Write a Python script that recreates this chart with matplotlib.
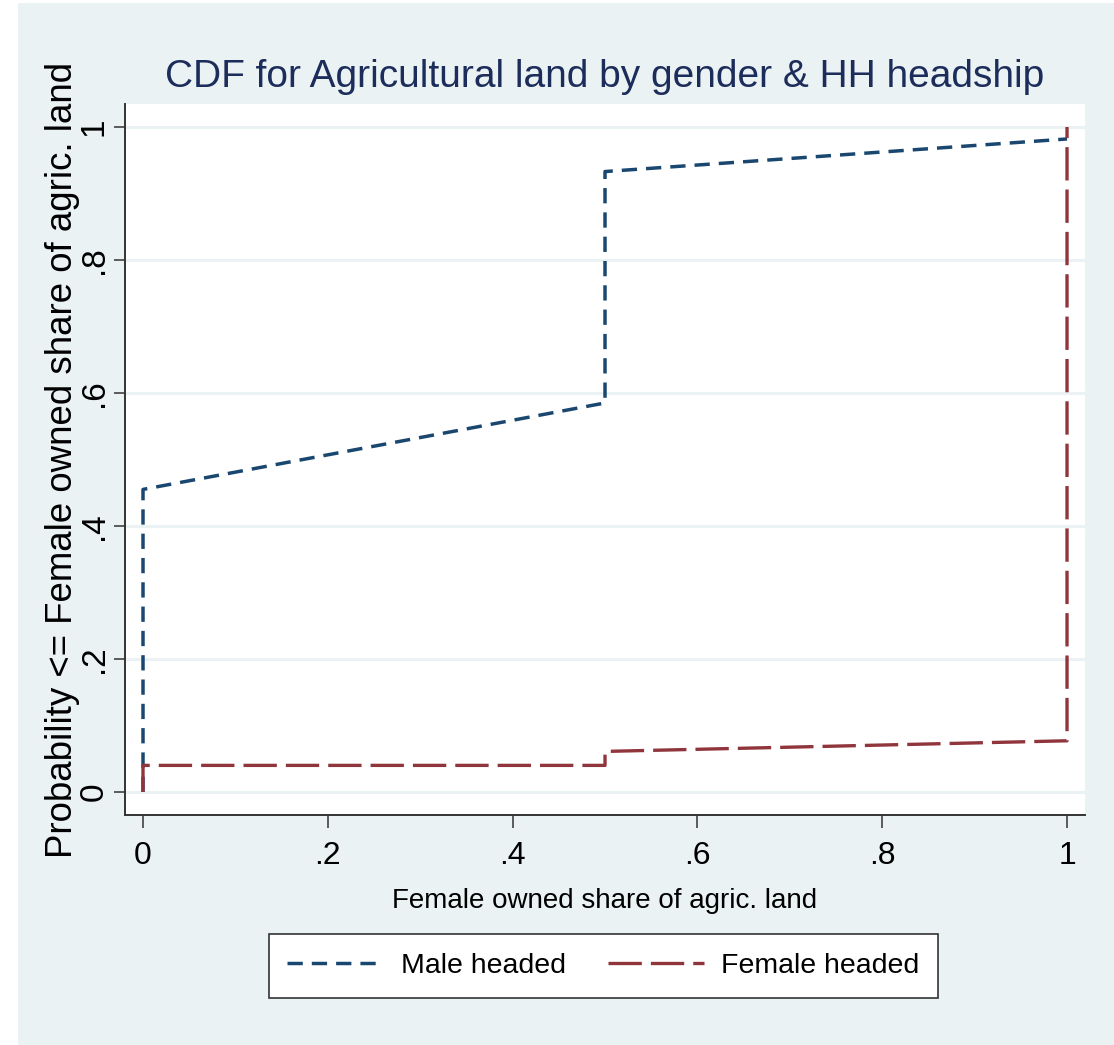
import matplotlib
matplotlib.use('Agg')
import matplotlib.pyplot as plt
from matplotlib.patches import Rectangle

# step CDF (points joined in sorted order)
male_x = [0, 0, 0.5, 0.5, 1]
male_y = [0, 0.455, 0.585, 0.933, 0.982]
female_x = [0, 0, 0.5, 0.5, 1, 1]
female_y = [0, 0.040, 0.040, 0.061, 0.077, 1.0]

ticks = [0, 0.2, 0.4, 0.6, 0.8, 1]
tick_labels = ['0', '.2', '.4', '.6', '.8', '1']
series_names = ['Male headed', 'Female headed']

TITLE = 'CDF for Agricultural land by gender & HH headship'
XLAB = 'Female owned share of agric. land'
YLAB = 'Probability <= Female owned share of agric. land'

FONT = ['Liberation Sans', 'DejaVu Sans']
plt.rcParams['font.family'] = FONT
plt.rcParams['lines.scale_dashes'] = False

NAVY = '#1A476F'
MAROON = '#90353B'
BG = '#EAF2F3'

fig = plt.figure(figsize=(11.14, 10.45), dpi=100)
fig.patch.set_facecolor('white')
fig.patches.append(Rectangle((0.0162, 0), 1 - 0.0162, 0.9971, transform=fig.transFigure,
                             facecolor=BG, edgecolor='none', zorder=-10))

ax = fig.add_axes([0.1122, 0.2201, 0.8618, 0.6804])
ax.set_facecolor('white')

ax.plot(male_x, male_y, color=NAVY, lw=2.5, dashes=(11, 6.5), label=series_names[0])
ax.plot(female_x, female_y, color=MAROON, lw=2.4, dashes=(24, 6.5), label=series_names[1])

ax.set_xlim(-0.0195, 1.0195)
ax.set_ylim(-0.0346, 1.0346)

ax.set_xticks(ticks)
ax.set_xticklabels(tick_labels, fontsize=23)
ax.set_yticks(ticks)
ax.set_yticklabels(tick_labels, fontsize=24, rotation=90, va='center', ha='right')
ax.tick_params(axis='x', length=9.4, width=1.1, color='#333333', pad=9)
ax.tick_params(axis='y', length=8, width=1.1, color='#333333', pad=3)

ax.yaxis.grid(True, color=BG, lw=2.2)
ax.set_axisbelow(True)

for s in ['top', 'right']:
    ax.spines[s].set_visible(False)
for s in ['left', 'bottom']:
    ax.spines[s].set_color('#333333')
    ax.spines[s].set_linewidth(1.4)

ax.set_title(TITLE, fontsize=28, color='#1C2C5B', y=1.0239, pad=0, va='baseline')
ax.set_xlabel(XLAB, fontsize=20, va='baseline')
ax.xaxis.set_label_coords(0.5, -0.1308)
ax.set_ylabel(YLAB, fontsize=26.4)
ax.yaxis.set_label_coords(-0.047, 0.5)

fs = 20.5
leg = fig.legend(loc='center', bbox_to_anchor=(603.5 / 1114, 1 - 966 / 1045), ncol=2,
                 fontsize=fs, handlelength=3.4, handletextpad=0.6, columnspacing=1.45,
                 borderpad=0.65, fancybox=False, framealpha=1, edgecolor='#333333')
leg.get_frame().set_linewidth(1.2)

fig.savefig('out.png', dpi=100)
